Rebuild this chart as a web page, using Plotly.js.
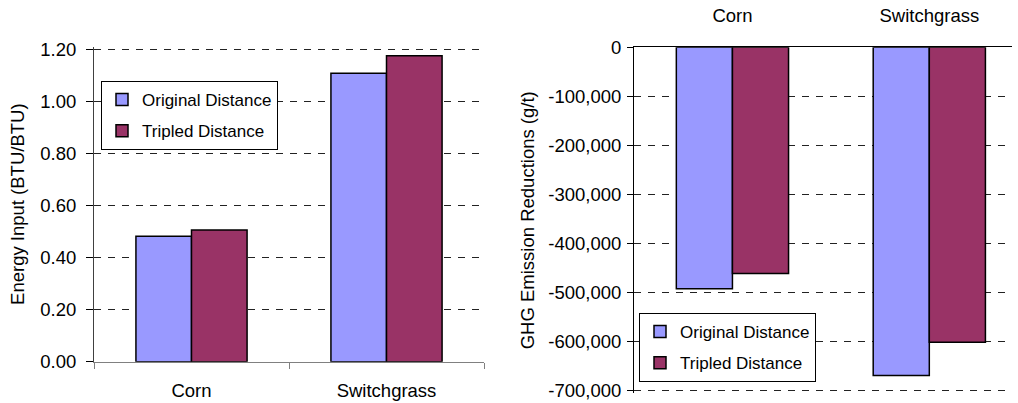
<!DOCTYPE html>
<html>
<head>
<meta charset="utf-8">
<script src="https://cdn.plot.ly/plotly-3.0.1.min.js"></script>
<style>html,body{margin:0;padding:0;background:#fff;}#chart{width:1018px;height:403px;}</style>
</head>
<body>
<div id="chart"></div>
<script>
const categories = ['Corn', 'Switchgrass'];
const seriesNames = ['Original Distance', 'Tripled Distance'];
const energyOriginal = [0.482, 1.108];
const energyTripled = [0.506, 1.175];
const ghgOriginal = [-492000, -669000];
const ghgTripled = [-461000, -601000];
const energyTickVals = [0, 0.2, 0.4, 0.6, 0.8, 1.0, 1.2];
const energyTickText = ['0.00', '0.20', '0.40', '0.60', '0.80', '1.00', '1.20'];
const ghgTickVals = [-700000, -600000, -500000, -400000, -300000, -200000, -100000, 0];
const ghgTickText = ['-700,000', '-600,000', '-500,000', '-400,000', '-300,000', '-200,000', '-100,000', '0'];

const colors = ['#9999FF', '#993366'];
const FONT = 'Liberation Sans, Arial, sans-serif';
const outline = {color: '#000', width: 1.5};

const traces = [
  {type: 'bar', x: categories, y: energyOriginal, name: seriesNames[0], xaxis: 'x', yaxis: 'y',
   marker: {color: colors[0], line: outline}, legend: 'legend', legendgroup: 'a1', hoverinfo: 'skip'},
  {type: 'bar', x: categories, y: energyTripled, name: seriesNames[1], xaxis: 'x', yaxis: 'y',
   marker: {color: colors[1], line: outline}, legend: 'legend', legendgroup: 'a2', hoverinfo: 'skip'},
  {type: 'bar', x: categories, y: ghgOriginal, name: seriesNames[0], xaxis: 'x2', yaxis: 'y2',
   marker: {color: colors[0], line: outline}, legend: 'legend2', legendgroup: 'b1', hoverinfo: 'skip'},
  {type: 'bar', x: categories, y: ghgTripled, name: seriesNames[1], xaxis: 'x2', yaxis: 'y2',
   marker: {color: colors[1], line: outline}, legend: 'legend2', legendgroup: 'b2', hoverinfo: 'skip'}
];

const W = 1018, H = 403;
const gridStyle = {showgrid: true, gridcolor: '#222', gridwidth: 1, griddash: '7px,7px'};

const layout = {
  width: W, height: H,
  margin: {l: 0, r: 0, t: 0, b: 0},
  paper_bgcolor: '#fff', plot_bgcolor: 'rgba(0,0,0,0)',
  font: {family: FONT, size: 18.5, color: '#000'},
  barmode: 'group', bargap: 0.43, bargroupgap: 0,
  showlegend: true,
  xaxis: {
    domain: [94 / W, 484 / W], anchor: 'y', type: 'category', range: [-0.5, 1.5],
    showline: true, linecolor: '#808080', linewidth: 1,
    ticks: 'outside', tickson: 'boundaries', ticklen: 6, tickcolor: '#808080',
    ticklabelstandoff: 12, showgrid: false, zeroline: false,
    tickfont: {size: 18.5}
  },
  yaxis: Object.assign({
    domain: [(H - 361.7) / H, (H - 46.7) / H], anchor: 'x', range: [0, 1.21],
    tickmode: 'array', tickvals: energyTickVals, ticktext: energyTickText,
    showline: true, linecolor: '#404040', linewidth: 1,
    ticks: 'outside', ticklen: 7, tickcolor: '#000', ticklabelstandoff: 6,
    zeroline: false, tickfont: {size: 18.5},
    title: {text: 'Energy Input (BTU/BTU)', font: {size: 18.5}, standoff: 10}
  }, gridStyle),
  xaxis2: {
    domain: [634 / W, 1012 / W], anchor: 'y2', type: 'category', range: [-0.5, 1.42],
    side: 'top', showline: true, linecolor: '#000', linewidth: 1,
    ticks: '', ticklabelstandoff: 17, showgrid: false, zeroline: false,
    tickfont: {size: 18.5}
  },
  yaxis2: Object.assign({
    domain: [(H - 393.2) / H, (H - 47.3) / H], anchor: 'x2', range: [-705000, 0],
    tickmode: 'array', tickvals: ghgTickVals, ticktext: ghgTickText,
    showline: true, linecolor: '#000', linewidth: 1,
    ticks: 'outside', ticklen: 6, tickcolor: '#000', ticklabelstandoff: 2,
    zeroline: false, tickfont: {size: 18.5},
    title: {text: 'GHG Emission Reductions (g/t)', font: {size: 18.5}, standoff: 8}
  }, gridStyle),
  legend: {
    x: 101 / W, y: (H - 81) / H, xanchor: 'left', yanchor: 'top',
    bgcolor: '#fff', bordercolor: '#000', borderwidth: 1,
    font: {size: 17}, tracegroupgap: 6, itemwidth: 30
  },
  legend2: {
    x: 639 / W, y: (H - 313) / H, xanchor: 'left', yanchor: 'top',
    bgcolor: '#fff', bordercolor: '#000', borderwidth: 1,
    font: {size: 17}, tracegroupgap: 6, itemwidth: 30
  }
};

Plotly.newPlot('chart', traces, layout, {displayModeBar: false, staticPlot: true});
</script>
</body>
</html>
